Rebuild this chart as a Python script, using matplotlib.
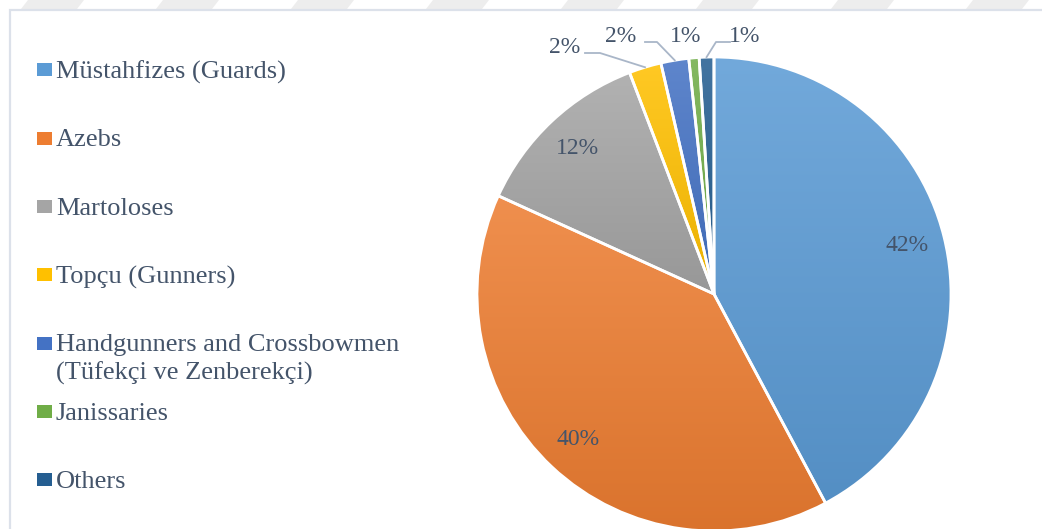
import numpy as np
import matplotlib
matplotlib.use("Agg")
import matplotlib.pyplot as plt
from matplotlib.colors import LinearSegmentedColormap, to_rgb
from matplotlib.patches import Rectangle, Polygon

# ---- data ----
categories = ["Müstahfizes (Guards)", "Azebs", "Martoloses", "Topçu (Gunners)",
              "Handgunners and Crossbowmen\n(Tüfekçi ve Zenberekçi)", "Janissaries", "Others"]
shares = [42.2, 39.6, 12.4, 2.2, 1.9, 0.7, 1.0]
colors = ["#5B9BD5", "#ED7D31", "#A5A5A5", "#FFC000", "#4472C4", "#70AD47", "#255E91"]

W, H = 1042, 529
fig = plt.figure(figsize=(W / 100, H / 100), dpi=100)
fig.patch.set_facecolor("white")

def fx(px):
    return px / W

def fy(py):
    return 1 - py / H

TXT = "#44546A"
FONT = "Liberation Serif"

# watermark stripes at the top
for i in range(8):
    x0 = 28 + 135 * i
    poly = Polygon([(fx(x0), fy(0)), (fx(x0 + 56), fy(0)), (fx(x0 + 49), fy(9)), (fx(x0 - 7), fy(9))],
                   closed=True, transform=fig.transFigure, facecolor="#EDEDED", edgecolor="none", zorder=0)
    fig.add_artist(poly)

# chart border
fig.add_artist(Rectangle((fx(10), fy(H + 20)), fx(W + 20), fy(10) - fy(H + 20),
                         transform=fig.transFigure, facecolor="white", edgecolor="#DCE1EA",
                         linewidth=1.6, zorder=1))

# ---- pie ----
CX, CY, R = 714, 294, 237
ax = fig.add_axes([fx(CX - R), fy(CY + R), fx(2 * R), fy(CY - R) - fy(CY + R)])
ax.set_zorder(2)
ax.patch.set_alpha(0)

wedges, _ = ax.pie(shares, colors=colors, startangle=90, counterclock=False, radius=1,
                   wedgeprops=dict(edgecolor="white", linewidth=2.0))

def lighten(c, f):
    c = np.array(to_rgb(c))
    return tuple(c + (1 - c) * f)

def darken(c, f):
    c = np.array(to_rgb(c))
    return tuple(c * f)

grad = np.linspace(0, 1, 256).reshape(-1, 1)
for w, c in zip(wedges, colors):
    ext = w.get_path().get_extents()
    cmap = LinearSegmentedColormap.from_list("g", [lighten(c, 0.14), darken(c, 0.92)])
    im = ax.imshow(grad, cmap=cmap, extent=[ext.x0, ext.x1, ext.y0, ext.y1], origin="upper",
                   aspect="auto", zorder=1, interpolation="bilinear")
    im.set_clip_path(w)
    w.set_facecolor("none")
    w.set_zorder(2)

ax.set_xlim(-1, 1)
ax.set_ylim(-1, 1)
ax.set_aspect("equal")
ax.axis("off")

# percentage labels
# external label layout for small slices: (label centre x, label centre y, elbow x, elbow y, line end x) in pixels
ext_layout = {
    3: (565, 47, 600, 53, 585),
    4: (621, 37, 657, 42, 645),
    5: (686, 37, None, None, None),
    6: (745, 37, 716, 42, 730),
}
LEAD = "#A9B6C8"
for i, (w, v) in enumerate(zip(wedges, shares)):
    mid = np.deg2rad((w.theta1 + w.theta2) / 2)
    lab = f"{v:.0f}%"
    if v >= 5:
        d = 0.84
        ax.text(d * np.cos(mid), d * np.sin(mid), lab, ha="center", va="center",
                fontsize=17, family=FONT, color=TXT)
    else:
        lx, ly, ex, ey, hx = ext_layout[i]
        ax.text((lx - CX) / R, (CY - ly) / R, lab, ha="center", va="center",
                fontsize=17, family=FONT, color=TXT, clip_on=False)
        if ex is not None:
            px, py = np.cos(mid), np.sin(mid)
            xs = [px, (ex - CX) / R, (hx - CX) / R]
            ys = [py, (CY - ey) / R, (CY - ey) / R]
            ax.plot(xs, ys, color=LEAD, lw=1.3, clip_on=False, zorder=3)

# ---- legend ----
for i, (name, c) in enumerate(zip(categories, colors)):
    yc = 70 + 68.3 * i
    fig.add_artist(Rectangle((fx(37), fy(yc + 6.5)), fx(15), fy(yc - 6.5) - fy(yc + 6.5),
                             transform=fig.transFigure, facecolor=c, edgecolor="none", zorder=3))
    fig.text(fx(56), fy(yc - 9), name, ha="left", va="top", fontsize=19, family=FONT,
             color=TXT, linespacing=1.32, zorder=3)

fig.savefig("out.png", dpi=100)
